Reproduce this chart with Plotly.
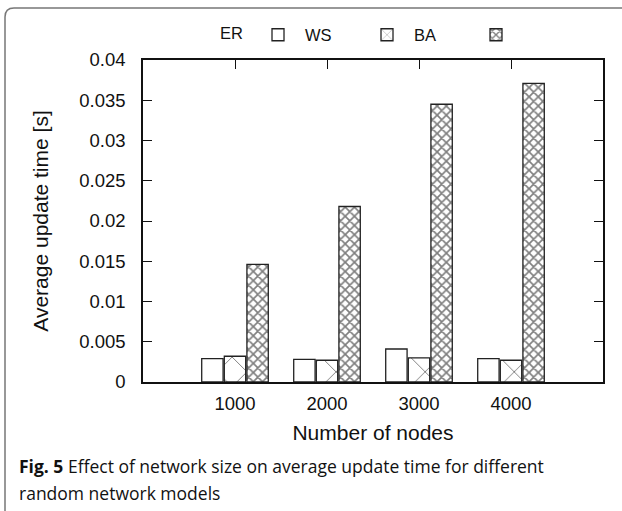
import plotly.graph_objects as go

# ---- data ----
nodes = [1000, 2000, 3000, 4000]
er_time = [0.0029, 0.0028, 0.0041, 0.0029]
ws_time = [0.0032, 0.0027, 0.0030, 0.0027]
ba_time = [0.0146, 0.0218, 0.0345, 0.0371]
series_names = ["ER", "WS", "BA"]
y_tickvals = [0, 0.005, 0.01, 0.015, 0.02, 0.025, 0.03, 0.035, 0.04]
y_ticktext = ["0", "0.005", "0.01", "0.015", "0.02", "0.025", "0.03", "0.035", "0.04"]
x_title = "Number of nodes"
y_title = "Average update time [s]"
caption_lines = ["<b>Fig. 5</b> Effect of network size on average update time for different",
                 "random network models"]

# ---- layout geometry (pixels) ----
W, H = 622, 511
L, R, T, B = 143, 603, 60, 382.5
pw, ph = R - L, B - T


def px(x):
    return (x - L) / pw


def py(y):
    return (B - y) / ph


FONT = "Liberation Sans"

# Legend in the reference reads "ER [box] WS [box] BA [box]" (text before sample).
# Reproduced with the legend title holding the first label and each entry
# carrying the label of the following series.
legend_labels = series_names[1:] + [""]

styles = [
    dict(shape=""),
    dict(shape="x", size=21, solidity=0.09, fgcolor="#000", bgcolor="white", fillmode="overlay"),
    dict(shape="x", size=6.5, solidity=0.45, fgcolor="#000", bgcolor="white", fillmode="overlay"),
]
values = [er_time, ws_time, ba_time]

fig = go.Figure()
for name, lab, vals, pat in zip(series_names, legend_labels, values, styles):
    fig.add_trace(go.Bar(
        x=nodes, y=vals, name=lab,
        marker=dict(color="white", line=dict(color="#222", width=1.3), pattern=pat),
        hovertemplate=name + ": %{y}<extra></extra>",
    ))

fig.update_layout(
    width=W, height=H,
    margin=dict(l=L, r=W - R, t=T, b=H - B, pad=0, autoexpand=False),
    paper_bgcolor="white", plot_bgcolor="white",
    barmode="group", bargap=0.263, bargroupgap=0.054,
    font=dict(family=FONT, color="#111", size=18),
    showlegend=True,
    legend=dict(
        orientation="h", x=px(218), y=py(35), xanchor="left", yanchor="middle",
        title=dict(text=series_names[0], side="left", font=dict(family=FONT, size=16.5)),
        font=dict(family=FONT, size=16.5), bgcolor="rgba(0,0,0,0)", traceorder="normal",
        itemwidth=44, entrywidth=50,
    ),
    xaxis=dict(
        range=[0, 5000], tickvals=nodes, ticktext=[str(n) for n in nodes],
        ticks="inside", ticklen=9, tickwidth=1, tickcolor="#111",
        showline=True, linecolor="#111", linewidth=1.5, mirror="ticks",
        showgrid=False, zeroline=False, layer="below traces",
        ticklabelstandoff=4,
        tickfont=dict(size=18.5),
        title=dict(text=x_title, font=dict(size=21), standoff=12),
    ),
    yaxis=dict(
        range=[0, 0.04], tickvals=y_tickvals, ticktext=y_ticktext,
        ticks="inside", ticklen=9, tickwidth=1, tickcolor="#111",
        showline=True, linecolor="#111", linewidth=1.5, mirror="ticks",
        showgrid=False, zeroline=False, layer="below traces",
        ticklabelstandoff=12,
        tickfont=dict(size=18.5),
        title=dict(text=y_title, font=dict(size=21), standoff=25),
    ),
)

# outer rounded frame (only left and top edges fall inside the picture)
x0, yt = px(5), py(8)
rx, ry = 9 / pw, 9 / ph
fig.add_shape(
    type="path", xref="paper", yref="paper",
    path=f"M {x0},{py(540)} L {x0},{yt - ry} Q {x0},{yt} {x0 + rx},{yt} L {px(650)},{yt}",
    line=dict(color="#777", width=1.5),
)

for line, yc in zip(caption_lines, [467, 494]):
    fig.add_annotation(
        text=line, xref="paper", yref="paper", x=px(17), y=py(yc),
        xanchor="left", yanchor="middle", align="left", showarrow=False,
        font=dict(family="Open Sans", size=17.5, color="#111"),
    )

fig.write_html("out.html")
